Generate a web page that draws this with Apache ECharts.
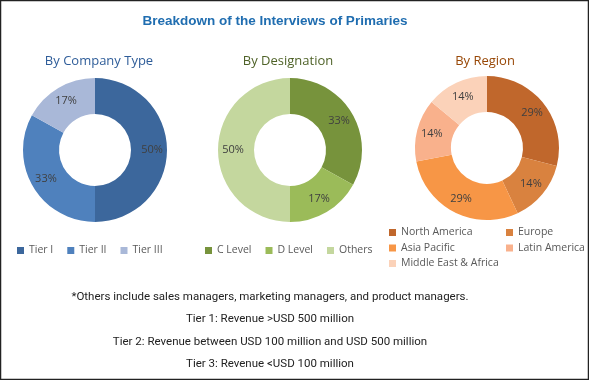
<!DOCTYPE html>
<html><head><meta charset="utf-8">
<script src="https://cdn.jsdelivr.net/npm/echarts@6/dist/echarts.min.js"></script>
<style>html,body{margin:0;padding:0;background:#fff}#c{width:589px;height:380px}</style>
</head><body><div id="c"></div>
<script>
const companyTypes = ['Tier I', 'Tier II', 'Tier III'];
const companyValues = [50, 33, 17];
const designations = ['C Level', 'D Level', 'Others'];
const designationValues = [33, 17, 50];
const regions = ['North America', 'Europe', 'Asia Pacific', 'Latin America', 'Middle East & Africa'];
const regionValues = [29, 14, 29, 14, 14];
const footnotes = [
  '*Others include sales managers, marketing managers, and product managers.',
  'Tier 1: Revenue >USD 500 million',
  'Tier 2: Revenue between USD 100 million and USD 500 million',
  'Tier 3: Revenue <USD 100 million'
];

const companyColors = ['#3c679c', '#4f81bd', '#a9b8d8'];
const designationColors = ['#77933c', '#9bbb59', '#c4d79e'];
const regionColors = ['#c0672c', '#d9823f', '#f79646', '#f9b18c', '#fbd2b9'];

const chart = echarts.init(document.getElementById('c'));
const font = 'Open Sans';
function pie(name, names, values, colors, cx, cy) {
  return {
    type: 'pie', name: name, center: [cx, cy], radius: [36, 72],
    startAngle: 90, clockwise: true, avoidLabelOverlap: false,
    label: { show: true, position: 'inside', formatter: '{c}%', color: '#404040', fontSize: 11, fontFamily: font },
    labelLine: { show: false },
    emphasis: { disabled: true },
    itemStyle: { borderWidth: 0 },
    data: names.map((n, i) => ({ name: n, value: values[i], itemStyle: { color: colors[i] } }))
  };
}
const legendBase = { itemWidth: 7, itemHeight: 7, icon: 'rect', padding: 0, textStyle: { color: '#595959', fontSize: 10.5, fontFamily: font }, selectedMode: false };
chart.setOption({
  animation: false,
  title: [
    { text: 'Breakdown of the Interviews of Primaries', left: 270, top: 9, textAlign: 'center', textStyle: { color: '#1f6db0', fontSize: 13.5, fontWeight: 'bold', fontFamily: 'Liberation Sans' } },
    { text: 'By Company Type', left: 94, top: 50, textAlign: 'center', textStyle: { color: '#2f5d99', fontSize: 13, fontWeight: 'normal', fontFamily: font } },
    { text: 'By Designation', left: 283, top: 50, textAlign: 'center', textStyle: { color: '#4f6228', fontSize: 13, fontWeight: 'normal', fontFamily: font } },
    { text: 'By Region', left: 480, top: 50, textAlign: 'center', textStyle: { color: '#984807', fontSize: 13, fontWeight: 'normal', fontFamily: font } }
  ],
  legend: [
    Object.assign({}, legendBase, { data: companyTypes, left: 17, top: 245, itemGap: 14 }),
    Object.assign({}, legendBase, { data: designations, left: 205, top: 245, itemGap: 14 }),
    Object.assign({}, legendBase, { data: [regions[0], regions[2], regions[4]], left: 389, top: 227, orient: 'vertical', itemGap: 4.5 }),
    Object.assign({}, legendBase, { data: [regions[1], regions[3]], left: 506, top: 227, orient: 'vertical', itemGap: 4.5 })
  ],
  graphic: [
    { type: 'rect', shape: { x: 0.5, y: 0.5, width: 588, height: 379 }, style: { fill: 'none', stroke: '#222', lineWidth: 1.5 }, silent: true }
  ].concat(footnotes.map((t, i) => ({
    type: 'text', x: 270, y: 291 + i * 22.5,
    style: { text: t, fill: '#222', font: '11.5px Roboto', textAlign: 'center' }, silent: true
  }))),
  series: [
    pie('company', companyTypes, companyValues, companyColors, 95, 150),
    pie('designation', designations, designationValues, designationColors, 290, 150),
    pie('region', regions, regionValues, regionColors, 487, 148)
  ]
});
</script></body></html>
